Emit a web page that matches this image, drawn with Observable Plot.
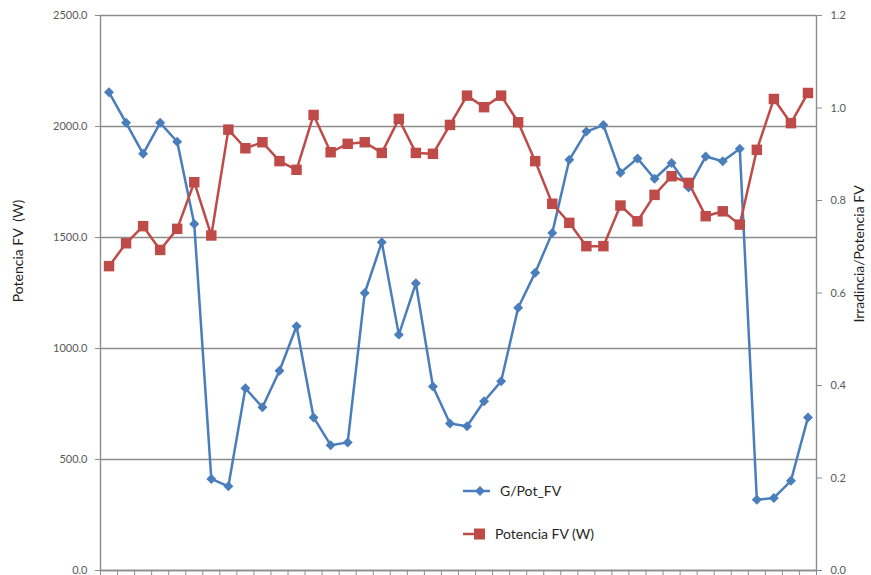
<!DOCTYPE html>
<html>
<head>
<meta charset="utf-8">
<script src="https://cdn.jsdelivr.net/npm/d3@7"></script>
<script src="https://cdn.jsdelivr.net/npm/@observablehq/plot@0.6"></script>
<style>
  html, body { margin: 0; padding: 0; background: #fff; }
  #chart { position: relative; width: 871px; height: 575px; font-family: Lato, "Open Sans", sans-serif; }
  .legend { position: absolute; left: 461px; font-size: 14px; color: #262626; display: flex; align-items: center; }
  .legend svg { margin-right: 8px; }
</style>
</head>
<body>
<div id="chart"></div>
<script>
// Sample number along the day (x has no labels, only tick marks between samples)
const muestras = d3.range(1, 43);

// Ratio irradiance / PV power (right axis)
const gPot = [
  1.034, 0.968, 0.901, 0.968, 0.927, 0.749, 0.198, 0.182, 0.394, 0.353,
  0.432, 0.528, 0.331, 0.271, 0.277, 0.600, 0.710, 0.510, 0.621, 0.398,
  0.318, 0.312, 0.366, 0.409, 0.568, 0.644, 0.730, 0.888, 0.949, 0.963,
  0.860, 0.891, 0.847, 0.881, 0.828, 0.895, 0.885, 0.912, 0.153, 0.157,
  0.194, 0.331
];

// PV power in watts (left axis)
const potencia = [
  1371, 1474, 1551, 1444, 1539, 1749, 1509, 1986, 1902, 1929,
  1844, 1805, 2052, 1884, 1922, 1929, 1881, 2034, 1881, 1877,
  2007, 2139, 2087, 2139, 2019, 1844, 1652, 1566, 1461, 1461,
  1644, 1573, 1692, 1776, 1746, 1596, 1618, 1558, 1895, 2124,
  2015, 2151
];

const potTicks = [0, 500, 1000, 1500, 2000, 2500];
const irrTicks = [0, 0.2, 0.4, 0.6, 0.8, 1.0, 1.2];

const blue = "#4A7EBB";
const red = "#BE4B48";
const axisGray = "#8C8C8C";
const labelGray = "#595959";

// The right axis (0–1.2) shares the frame with the left axis (0–2500)
const irrToPot = v => v * 2500 / 1.2;
const potToIrr = v => v * 1.2 / 2500;

const rows = muestras.map((m, i) => ({muestra: m, gPot: gPot[i], potencia: potencia[i]}));
const bounds = [muestras[0] - 0.5, ...muestras.map(m => m + 0.5)];

const chart = Plot.plot({
  width: 871,
  height: 575,
  marginTop: 15,
  marginBottom: 5,
  marginLeft: 100,
  marginRight: 55,
  style: {fontFamily: "Lato, 'Open Sans', sans-serif", background: "white"},
  x: {domain: [bounds[0], bounds[bounds.length - 1]], axis: null},
  y: {domain: [0, 2500], axis: null},
  marks: [
    Plot.gridY(potTicks, {stroke: axisGray, strokeOpacity: 1, strokeWidth: 1.4}),
    Plot.ruleY([0], {stroke: axisGray, strokeWidth: 1.4}),
    Plot.ruleX([bounds[0], bounds[bounds.length - 1]], {stroke: axisGray, strokeWidth: 1.4}),
    // category ticks along the bottom
    Plot.axisX(bounds, {anchor: "bottom", tickSize: 5, tickFormat: () => "", color: axisGray, label: null}),
    // left axis: PV power
    Plot.axisY(potTicks, {anchor: "left", tickSize: 5, tickFormat: () => "", color: axisGray, label: null}),
    Plot.axisY(potTicks, {anchor: "left", tickSize: 0, tickPadding: 13, tickFormat: d => d.toFixed(1),
      color: labelGray, fontSize: 11, label: null}),
    // right axis: irradiance / PV power
    Plot.axisY(irrTicks.map(irrToPot), {anchor: "right", tickSize: 5, tickFormat: () => "", color: axisGray, label: null}),
    Plot.axisY(irrTicks.map(irrToPot), {anchor: "right", tickSize: 0, tickPadding: 14,
      tickFormat: d => potToIrr(d).toFixed(1), color: labelGray, fontSize: 11, label: null}),
    // axis titles
    Plot.text(["Potencia FV  (W)"], {text: d => d, frameAnchor: "left", textAnchor: "middle", dx: -82, dy: -42,
      rotate: -90, fontSize: 14, fill: "#1F1F1F"}),
    Plot.text(["Irradincia/Potencia FV"], {text: d => d, frameAnchor: "right", textAnchor: "middle", dx: 43, dy: -39,
      rotate: -90, fontSize: 14, fill: "#1F1F1F"}),
    // G/Pot_FV series
    Plot.line(rows, {x: "muestra", y: d => irrToPot(d.gPot), stroke: blue, strokeWidth: 2.5}),
    Plot.dot(rows, {x: "muestra", y: d => irrToPot(d.gPot), symbol: "diamond2", fill: blue, r: 4.5}),
    // Potencia FV series
    Plot.line(rows, {x: "muestra", y: "potencia", stroke: red, strokeWidth: 2.5}),
    Plot.dot(rows, {x: "muestra", y: "potencia", symbol: "square", fill: red, r: 5.9})
  ]
});

const root = document.getElementById("chart");
root.appendChild(chart);

// legend inside the plot area
const legendItems = [
  {label: "G/Pot_FV", color: blue, shape: "diamond", top: 482},
  {label: "Potencia FV  (W)", color: red, shape: "square", top: 525}
];
for (const item of legendItems) {
  const div = document.createElement("div");
  div.className = "legend";
  div.style.top = item.top + "px";
  const marker = item.shape === "diamond"
    ? `<path d="M19,2 L24,7 L19,12 L14,7 Z" fill="${item.color}"/>`
    : `<rect x="13" y="1.5" width="11" height="11" fill="${item.color}"/>`;
  const lineEnd = item.shape === "diamond" ? 29 : 24;
  div.innerHTML = `<svg width="${lineEnd + 2}" height="14"><line x1="2" y1="7" x2="${lineEnd}" y2="7" stroke="${item.color}" stroke-width="2.5"/>${marker}</svg><span>${item.label}</span>`;
  root.appendChild(div);
}
</script>
</body>
</html>
